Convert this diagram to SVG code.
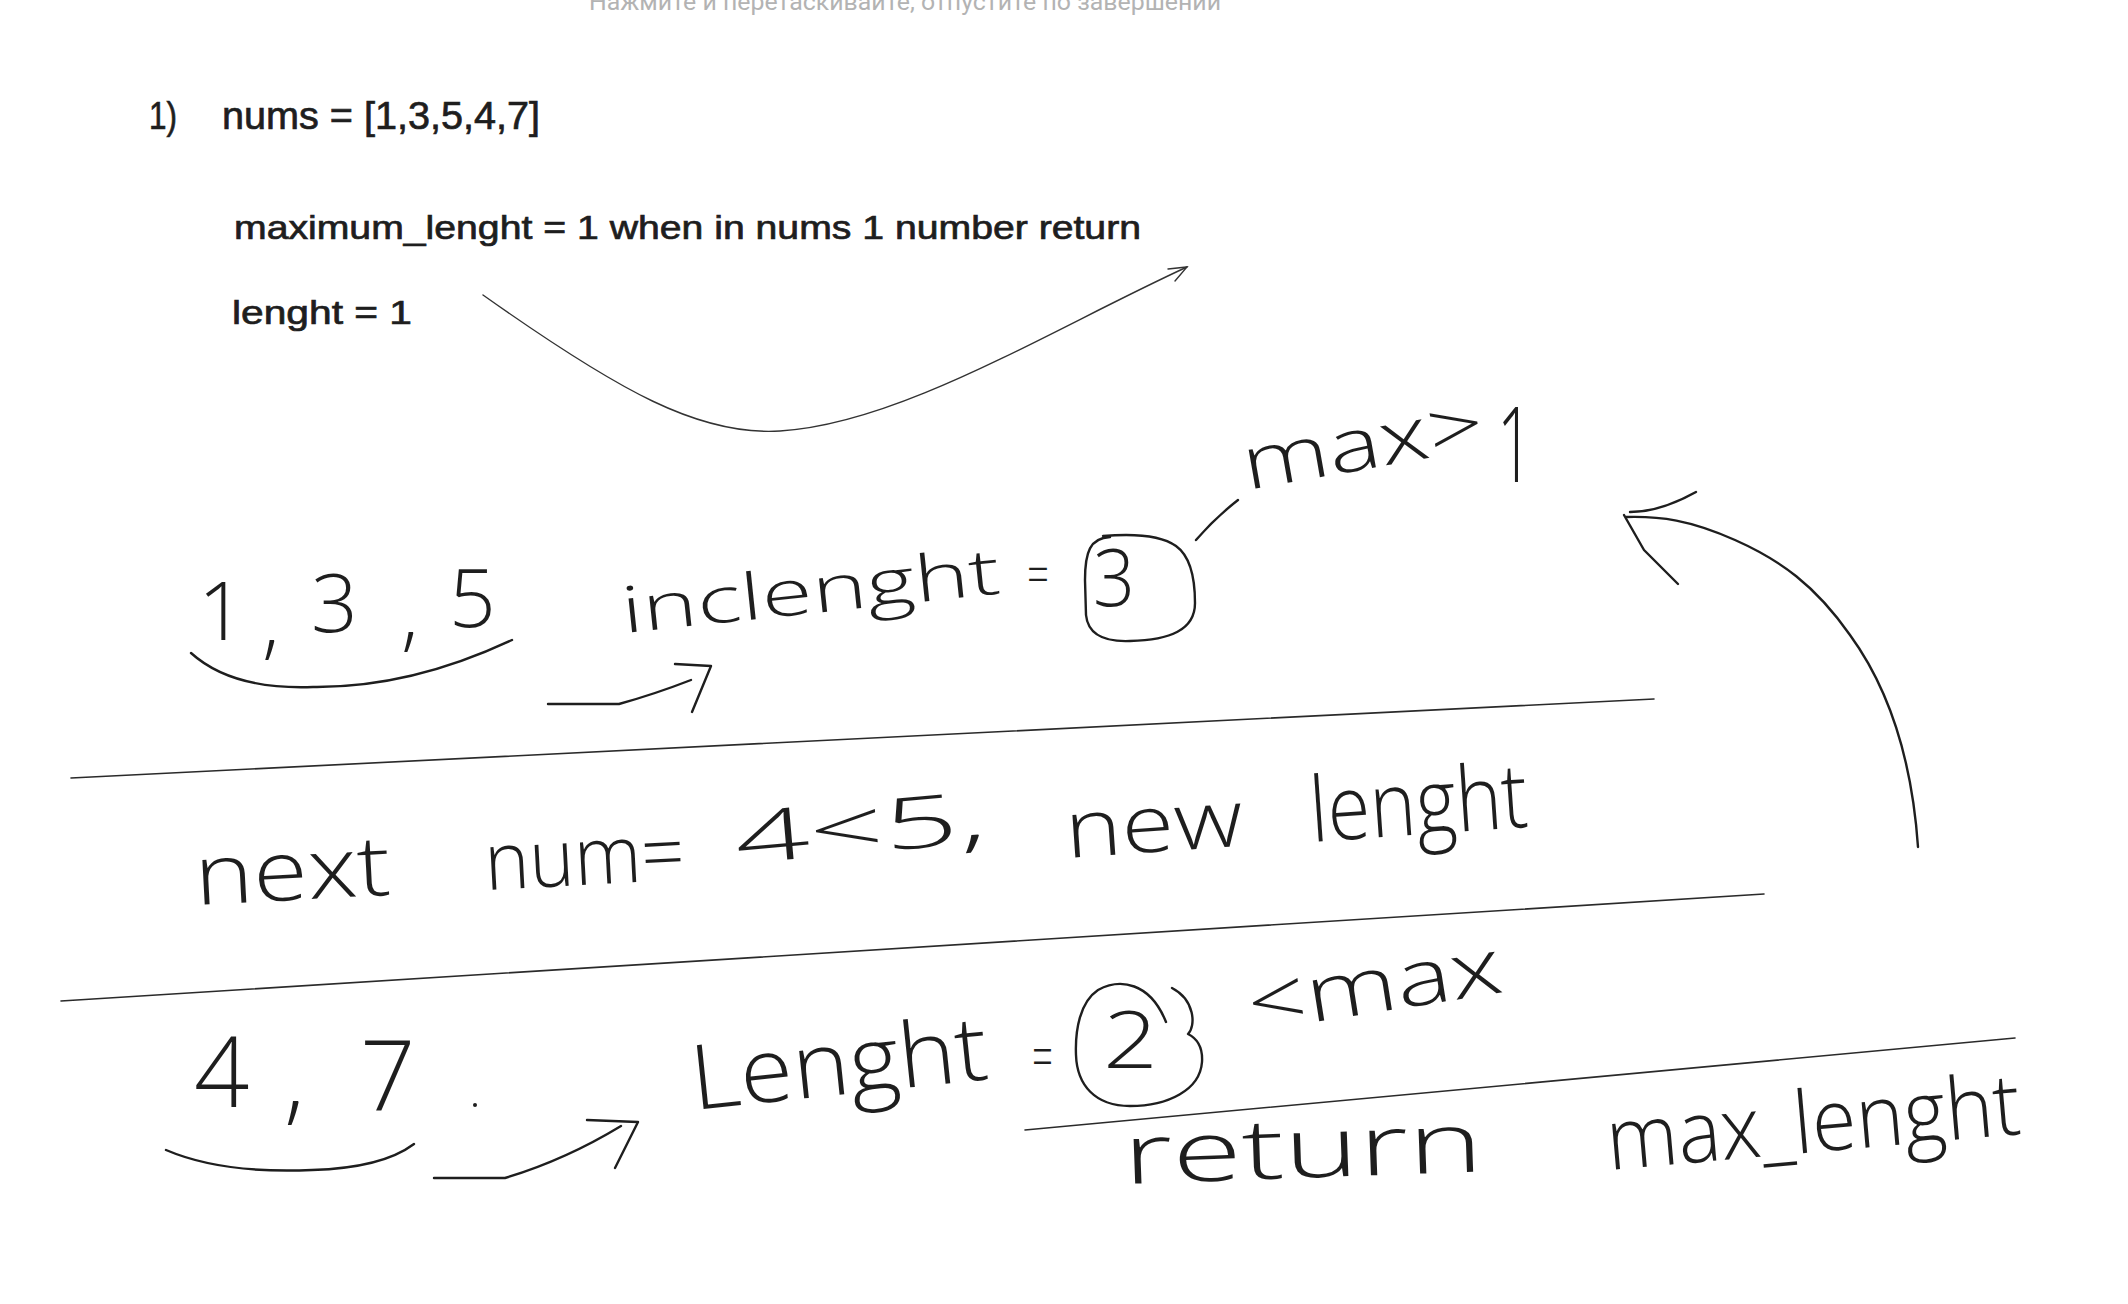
<svg xmlns="http://www.w3.org/2000/svg" width="2128" height="1304" viewBox="0 0 2128 1304">
<style>
.typed{font-family:"Liberation Sans","DejaVu Sans",sans-serif;fill:#1e1e1e;stroke:#1e1e1e;stroke-width:0.7}
.hw{font-family:"Open Sans",Lato,"Liberation Sans",sans-serif;font-weight:300;fill:#1e1e1e}
.stroke{fill:none;stroke:#1e1e1e;stroke-width:2.4;stroke-linecap:round;stroke-linejoin:round}
.thin{fill:none;stroke:#333;stroke-width:1.4;stroke-linecap:round}
.div{fill:none;stroke:#2a2a2a;stroke-width:1.6;stroke-linecap:round}
.hint{font-family:Roboto,"Liberation Sans",sans-serif;fill:#b3b3b3}
</style>
<rect width="2128" height="1304" fill="#ffffff"/>

<g id="hint"><text class="hint" x="589" y="9.5" font-size="23" textLength="632" lengthAdjust="spacingAndGlyphs">Нажмите и перетаскивайте, отпустите по завершении</text></g>

<g id="typed-notes">
<text class="typed" x="149" y="129" font-size="38" textLength="28" lengthAdjust="spacingAndGlyphs">1)</text>
<text class="typed" x="222" y="129" font-size="38" textLength="318" lengthAdjust="spacingAndGlyphs">nums = [1,3,5,4,7]</text>
<text class="typed" x="234" y="239" font-size="33" textLength="907" lengthAdjust="spacingAndGlyphs">maximum_lenght = 1 when in nums 1 number return</text>
<text class="typed" x="232" y="324" font-size="33" textLength="180" lengthAdjust="spacingAndGlyphs">lenght = 1</text>
</g>

<g id="row1">
<text class="hw" font-size="82" x="198 262 311 401 449" y="640 650 632 642 627">1,3,5</text>
<text class="hw" font-size="64" x="624" y="633" transform="rotate(-6 624 633)" textLength="380" lengthAdjust="spacingAndGlyphs">inclenght</text>
<text class="hw" font-size="56" x="1027" y="594" textLength="22" lengthAdjust="spacingAndGlyphs">=</text>
<text class="hw" font-size="80" x="1093" y="606" textLength="42" lengthAdjust="spacingAndGlyphs">3</text>
<text class="hw" font-size="74" x="1247" y="490" transform="rotate(-10 1247 490)" textLength="244" lengthAdjust="spacingAndGlyphs">max&gt;</text>
<text class="hw" font-size="106" x="1497" y="482" textLength="36" lengthAdjust="spacingAndGlyphs">1</text>
</g>

<g id="row2">
<text class="hw" font-size="84" x="196" y="905" transform="rotate(-3 196 905)" textLength="196" lengthAdjust="spacingAndGlyphs">next</text>
<text class="hw" font-size="80" x="486" y="890" transform="rotate(-3 486 890)" textLength="200" lengthAdjust="spacingAndGlyphs">num=</text>
<text class="hw" font-size="72" x="737" y="864" transform="rotate(-5 737 864)" textLength="252" lengthAdjust="spacingAndGlyphs">4&lt;5,</text>
<text class="hw" font-size="80" x="1067" y="858" transform="rotate(-4 1067 858)" textLength="178" lengthAdjust="spacingAndGlyphs">new</text>
<text class="hw" font-size="90" x="1312" y="842" transform="rotate(-4 1312 842)" textLength="218" lengthAdjust="spacingAndGlyphs">lenght</text>
</g>

<g id="row3">
<text class="hw" font-size="97" x="194 284 360" y="1107 1112 1110">4,7</text>
<circle cx="475" cy="1105" r="2" fill="#1e1e1e"/>
<text class="hw" font-size="90" x="694" y="1110" transform="rotate(-6 694 1110)" textLength="298" lengthAdjust="spacingAndGlyphs">Lenght</text>
<text class="hw" font-size="60" x="1032" y="1078" textLength="21" lengthAdjust="spacingAndGlyphs">=</text>
<text class="hw" font-size="80" x="1103" y="1068" textLength="55" lengthAdjust="spacingAndGlyphs">2</text>
<text class="hw" font-size="78" x="1252" y="1032" transform="rotate(-9 1252 1032)" textLength="256" lengthAdjust="spacingAndGlyphs">&lt;max</text>
<text class="hw" font-size="84" x="1124" y="1184" transform="rotate(-2 1124 1184)" textLength="360" lengthAdjust="spacingAndGlyphs">return</text>
<text class="hw" font-size="86" x="1609" y="1170" transform="rotate(-5 1609 1170)" textLength="415" lengthAdjust="spacingAndGlyphs">max_lenght</text>
</g>

<g id="marks">
<path class="stroke" d="M191,653 Q 232,690 313,687 Q 410,688 512,640"/>
<path class="stroke" d="M1110,537 C 1090,538 1085,552 1085,580 L 1086,615 C 1088,635 1105,642 1130,641 C 1170,640 1195,630 1195,603 C 1195,578 1190,556 1176,546 C 1162,536 1138,533 1103,536"/>
<path class="stroke" d="M1166,1022 C 1150,982 1120,978 1098,990 C 1080,1002 1075,1030 1076,1055 C 1077,1085 1095,1106 1130,1106 C 1168,1106 1200,1090 1202,1062 C 1203,1046 1196,1038 1188,1034 C 1196,1026 1195,1000 1172,988"/>
<path class="stroke" d="M166,1150 Q 222,1174 312,1170 Q 382,1168 414,1144"/>
</g>

<g id="connectors">
<path class="thin" d="M483,295 C 620,392 700,436 780,431 C 900,424 1050,330 1187,267"/>
<path class="thin" d="M1168,269 L 1187,267 L 1175,281"/>
<path class="stroke" d="M548,704 L 619,704 Q 655,694 691,680"/>
<path class="stroke" d="M675,664 L 711,666 L 692,712"/>
<path class="stroke" d="M1196,540 Q 1215,518 1238,500"/>
<path class="stroke" d="M434,1178 L 505,1178 Q 565,1160 621,1126"/>
<path class="stroke" d="M587,1120 L 638,1122 L 615,1168"/>
<path class="stroke" d="M1918,847 C 1912,760 1890,690 1850,635 C 1815,585 1780,560 1735,540 C 1690,520 1660,516 1626,517"/>
<path class="stroke" d="M1630,512 Q 1660,512 1696,492"/>
<path class="stroke" d="M1624,515 L 1644,550 L 1678,584"/>
<path class="div" d="M71,778 L 1654,699"/>
<path class="div" d="M61,1001 L 1764,894"/>
<path class="div" d="M1025,1130 L 2015,1038"/>
</g>
</svg>
